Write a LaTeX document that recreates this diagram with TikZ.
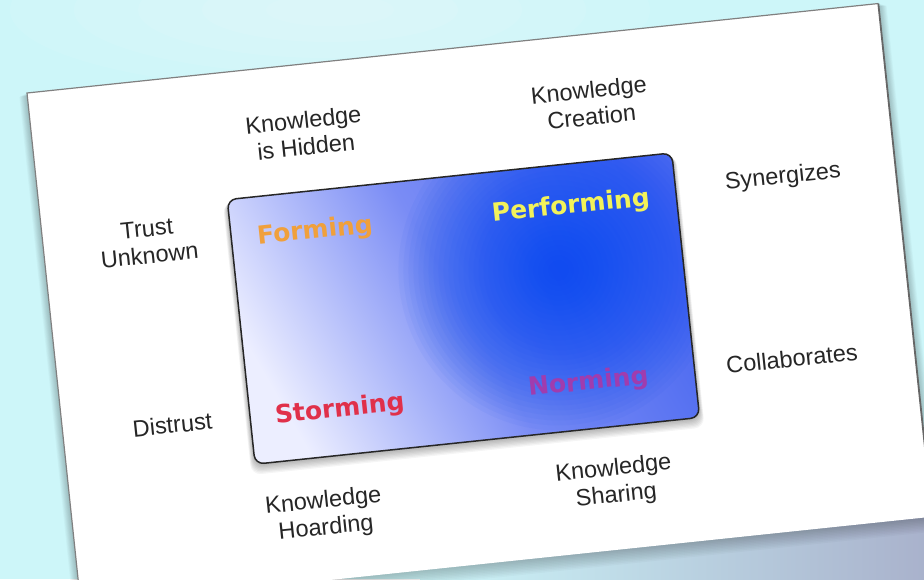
\documentclass[tikz,border=0pt]{standalone}
\usepackage{fontspec}
\setmainfont{Liberation Sans}
\newfontfamily\stagefont{DejaVu Sans}

\definecolor{skycyan}{HTML}{CDF6F9}
\definecolor{skygrey}{HTML}{A9B2CC}
\definecolor{panelpale}{HTML}{ECEEFF}
\definecolor{panelmid}{HTML}{7A8CF5}
\definecolor{panelblue}{HTML}{4A68F0}
\definecolor{coreblue}{HTML}{0046F0}
\definecolor{formcol}{HTML}{F0A03C}
\definecolor{perfcol}{HTML}{F2F25A}
\definecolor{stormcol}{HTML}{E0304A}
\definecolor{normcol}{HTML}{A03CAE}

\tikzset{
  axislabel/.style={font=\fontsize{23.5}{27}\selectfont, align=center, text=black!85},
  stagelabel/.style={font=\stagefont\bfseries\fontsize{25}{27}\selectfont},
}

\begin{document}
\begin{tikzpicture}[x=1pt, y=1pt]

  % backdrop
  \fill[skycyan] (0,0) rectangle (924,-579);
  \useasboundingbox (0,0) rectangle (924,-579);
  \foreach \r in {40,80,...,200}
    \fill[white, opacity=0.08] (330,-10) ellipse ({\r*1.6} and {\r*0.4});
  \shade[left color=skycyan, right color=skygrey] (420,-579) rectangle (924,-490);

  \begin{scope}[shift={(27,-93)}, rotate=6, y=-1pt, every node/.style={transform shape}]

    % card with soft shadow
    \foreach \s in {1,...,10}
      \fill[black, opacity=0.025] (-\s*0.8, \s*0.3) rectangle (856+\s*0.8, 516+\s*1.5);
    \fill[white] (0,0) rectangle (856,516);
    \draw[gray, line width=1.2] (0,516) -- (0,0) -- (856,0);
    \draw[gray!80!black, line width=1.8] (856,0) -- (856,516);

    % the blue panel
    \foreach \s in {1,...,8}
      \fill[black, opacity=0.04, rounded corners=10] (188-\s*0.6, 127+\s*0.4) rectangle (635+\s*0.5, 393+\s*1.3);
    \shade[rounded corners=9, left color=panelpale, right color=panelblue, middle color=panelmid, shading angle=120]
      (188,127) rectangle (635,393);
    \begin{scope}
      \clip[rounded corners=9] (188,127) rectangle (635,393);
      \foreach \r in {160,155,...,10}
        \fill[coreblue, opacity=0.045] (510,232) circle (\r);
    \end{scope}
    \draw[black!85, line width=1.5, rounded corners=9] (188,127) rectangle (635,393);

    % labels round the panel
    \node[axislabel] (hidden) at (272,69) {Knowledge\\is Hidden};
    \node[axislabel] (creation) at (559,69) {Knowledge\\Creation};
    \node[axislabel] (synergy) at (743,163) {Synergizes};
    \node[axislabel] (collab) at (733,344) {Collaborates};
    \node[axislabel] (unknown) at (105,161) {Trust\\Unknown};
    \node[axislabel] (distrust) at (110,345) {Distrust};
    \node[axislabel] (hoarding) at (252,451) {Knowledge\\Hoarding};
    \node[axislabel] (sharing) at (544,449) {Knowledge\\Sharing};

    % the four stages
    \node[stagelabel, text=formcol] (forming) at (272,168) {Forming};
    \node[stagelabel, text=perfcol] (performing) at (529,170) {Performing};
    \node[stagelabel, text=stormcol] (storming) at (278,348) {Storming};
    \node[stagelabel, text=normcol] (norming) at (528,347) {Norming};

  \end{scope}

\end{tikzpicture}
\end{document}
